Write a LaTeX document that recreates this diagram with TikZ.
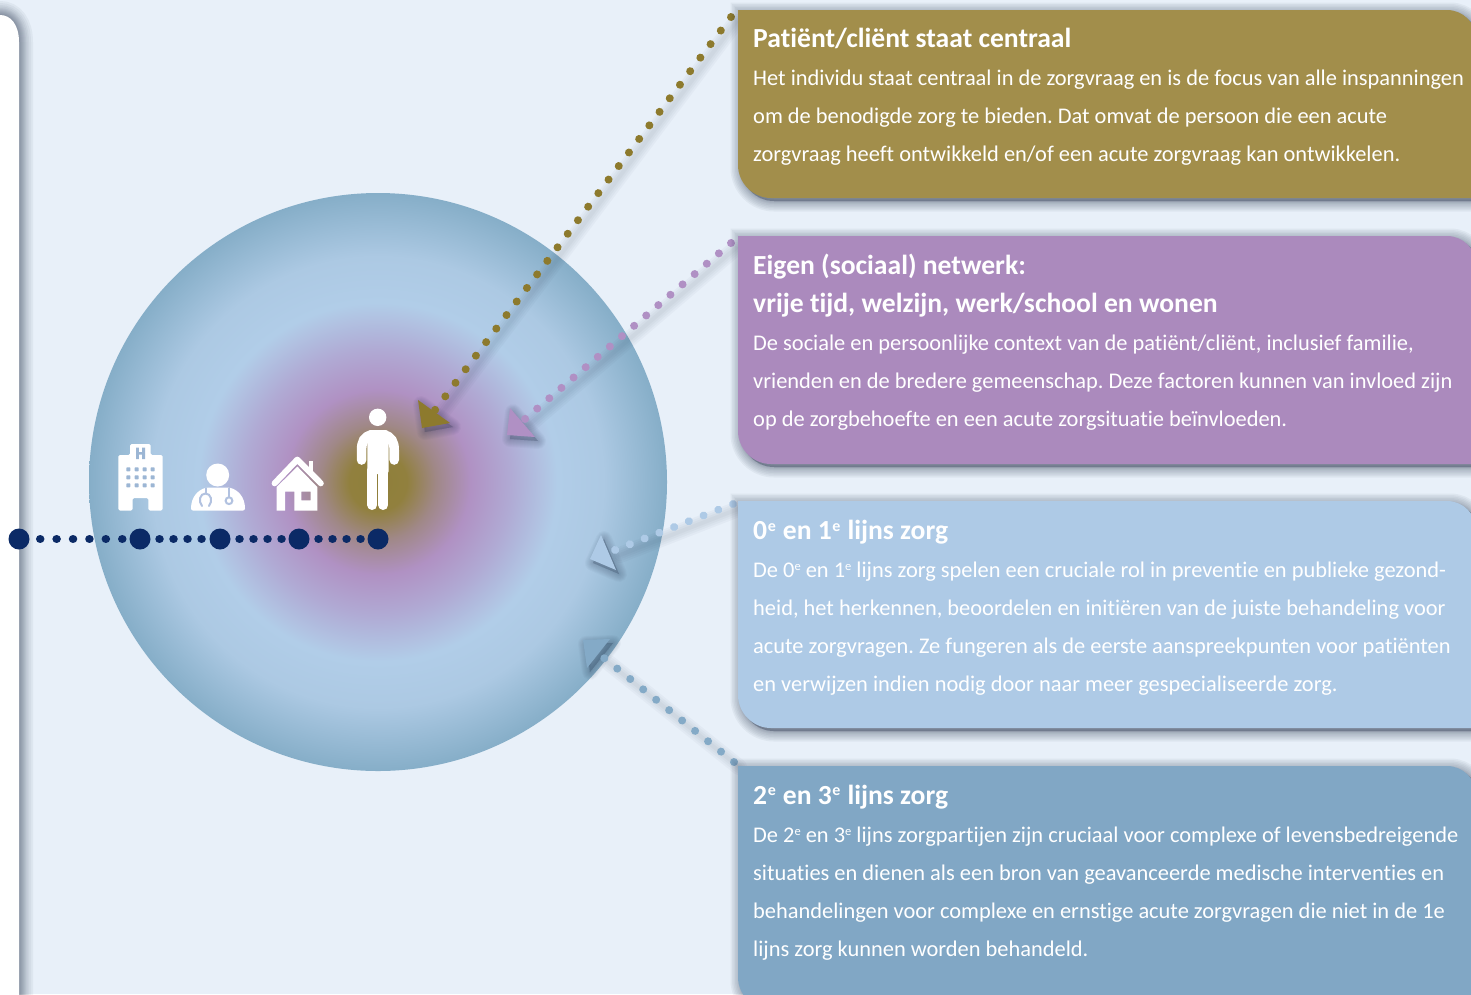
\documentclass[tikz,border=0pt]{standalone}
\usepackage{fontspec}
\setmainfont{Carlito}[Ligatures=NoCommon]
\usetikzlibrary{calc}

\definecolor{achtergrond}{HTML}{E8F0F9}
\definecolor{navy}{HTML}{0B2A66}
\definecolor{olijf}{HTML}{A28E4B}
\definecolor{olijfdonker}{HTML}{8D7A2D}
\definecolor{paars}{HTML}{AB8ABD}
\definecolor{paarslicht}{HTML}{B090C4}
\definecolor{lichtblauw}{HTML}{AECAE6}
\definecolor{staalblauw}{HTML}{81A7C5}
\definecolor{staaldot}{HTML}{84AAC7}
\definecolor{schaduwkleur}{HTML}{1E2C45}
\definecolor{steto}{HTML}{B2C2E0}

\pgfdeclareradialshading{zorgbol}{\pgfpoint{0bp}{0bp}}{
 rgb(0bp)=(.561,.498,.227);
 rgb(2.5bp)=(.569,.502,.243);
 rgb(5bp)=(.627,.533,.529);
 rgb(8bp)=(.690,.569,.765);
 rgb(11.5bp)=(.690,.667,.831);
 rgb(15.5bp)=(.694,.804,.910);
 rgb(19.5bp)=(.675,.788,.890);
 rgb(25bp)=(.525,.682,.784);
 rgb(100bp)=(.525,.682,.784)}

\tikzset{
 schaduw/.style={schaduwkleur,opacity=.05},
 dunschaduw/.style={schaduwkleur,opacity=.03,line cap=round},
 bigdot/.style={circle,fill=navy,inner sep=0pt,minimum size=21pt},
 smalldots/.style={navy,line width=8.5pt,line cap=round},
 pijldots/.style={line width=8pt,line cap=round,dash pattern=on .01pt off #1},
 kop/.style={anchor=base west,inner sep=0pt,text=white,font=\fontsize{27.6}{30}\selectfont\bfseries},
 regel/.style={anchor=base west,inner sep=0pt,text=white,font=\fontsize{22.4}{26}\selectfont},
 icoon/.style={white,draw=none,even odd rule}
}

\newcommand{\kaderpad}[2]{(738,#1) -- (1447,#1) .. controls (1463,#1) and (1476,#1+13) .. (1476,#1+29) -- (1476,#2) -- (771,#2) .. controls (753,#2) and (738,#2-15) .. (738,#2-33) -- cycle}
\newcommand{\ke}{\kern.6pt\raisebox{.62ex}{\fontsize{16}{16}\selectfont e}\kern.8pt}
\newcommand{\re}{\raisebox{.62ex}{\fontsize{12.5}{13}\selectfont e}}

\newcommand{\zorgkader}[3]{
 \foreach \w in {2,4,6,9,12,15,18,21}
  \path[schaduw,fill,draw,line width=\w pt,shift={(3,3)}] \kaderpad{#1}{#2};
 \fill[#3] \kaderpad{#1}{#2};
}

% van, laatste dot, drie hoeken van de punt, kleur, afstand
\newcommand{\zorgpijl}[7]{
 \foreach \w in {4,8,12,16}
  \draw[dunschaduw,line width=\w pt,transform canvas={shift={(5,5)}}] (#1) -- (#2);
 \foreach \w in {2,4,...,16}
  \path[schaduwkleur,opacity=.03,draw,fill,line join=round,line width=\w pt,transform canvas={shift={(3,4)}}] (#3) -- (#4) -- (#5) -- cycle;
 \draw[#6,pijldots=#7] (#1) -- (#2);
 \fill[#6] (#3) -- (#4) -- (#5) -- cycle;
}

\begin{document}
\frenchspacing
\begin{tikzpicture}[x=1pt,y=-1pt]
\useasboundingbox (0,0) rectangle (1471,994);
\clip (0,0) rectangle (1471,994);
\fill[achtergrond] (0,0) rectangle (1471,994);

\foreach \w in {2,4,6,8,10,12,14,17,20,24,28}
 \draw[schaduw,line width=\w pt] (-20,15) -- (0,15) .. controls (11,15) and (19,25) .. (19,42) -- (19,1010);
\fill[white] (-20,15) -- (0,15) .. controls (11,15) and (19,25) .. (19,42) -- (19,1010) -- (-20,1010) -- cycle;

\shade[shading=zorgbol] (378,482) circle (289);

\coordinate (patientvan) at (731,17);
\coordinate (patientpunt) at (435,410);
\coordinate (patienta) at (418,400);
\coordinate (patientb) at (450,423);
\coordinate (patientc) at (422,428);
\coordinate (netwerkvan) at (731,243);
\coordinate (netwerkpunt) at (525,419);
\coordinate (netwerka) at (510,408);
\coordinate (netwerkb) at (535,437);
\coordinate (netwerkc) at (507,435);
\coordinate (eerstevan) at (733,504);
\coordinate (eerstepunt) at (615,550);
\coordinate (eerstea) at (601,535);
\coordinate (eersteb) at (616,570);
\coordinate (eerstec) at (590,559);
\coordinate (tweedevan) at (734,762);
\coordinate (tweedepunt) at (604,658);
\coordinate (tweedea) at (583,640);
\coordinate (tweedeb) at (610,639);
\coordinate (tweedec) at (587,668);

\zorgpijl{patientvan}{patientpunt}{patienta}{patientb}{patientc}{olijfdonker}{16.95pt}
\zorgpijl{netwerkvan}{netwerkpunt}{netwerka}{netwerkb}{netwerkc}{paarslicht}{15.92pt}
\zorgpijl{eerstevan}{eerstepunt}{eerstea}{eersteb}{eerstec}{lichtblauw}{15.8pt}
\zorgpijl{tweedevan}{tweedepunt}{tweedea}{tweedeb}{tweedec}{staaldot}{16.6pt}

\zorgkader{10}{198}{olijf}
\zorgkader{236}{464}{paars}
\zorgkader{501}{728}{lichtblauw}
\zorgkader{766}{1010}{staalblauw}

% tijdlijn
\foreach \n/\x in {0/19,1/140,2/220,3/299,4/378}
 \node[bigdot] (stip\n) at (\x,539) {};
\draw[smalldots,dash pattern=on .01pt off 16.4pt,dash phase=5.9pt] (stip0) -- (stip1);
\foreach \a/\b in {1/2,2/3,3/4}
 \draw[smalldots,dash pattern=on .01pt off 14pt,dash phase=5.2pt] (stip\a) -- (stip\b);

% ziekenhuis
\fill[icoon,rounded corners=1.5pt] (118.3,455) -- (130,455) -- (130,444) -- (150.7,444) -- (150.7,455) -- (162.7,455) -- (162.7,510.5) -- (148.3,510.5) -- (148.3,498) -- (132.7,498) -- (132.7,510.5) -- (118.3,510.5) -- cycle;
\fill[steto!55!staalblauw] (136,447.5) -- (138.8,447.5) -- (138.8,452) -- (142.2,452) -- (142.2,447.5) -- (145,447.5) -- (145,459) -- (142.2,459) -- (142.2,454.5) -- (138.8,454.5) -- (138.8,459) -- (136,459) -- cycle;
\foreach \x in {128.3,136.7,144.7,152.7}
 \foreach \y in {469.3,477.3,485.3}
  \fill[steto!55!staalblauw,rounded corners=.7pt] (\x-2,\y-2) rectangle (\x+2,\y+2);

% dokter
\fill[white] (217.7,475) circle (11.5);
\fill[white,rounded corners=2pt] (191,510.5) .. controls (191,497) and (198,490) .. (207,487.5) -- (229,487.5) .. controls (238,490) and (245,497) .. (245,510.5) -- cycle;
\draw[steto,line width=2pt] (205.5,487.5) -- (205.5,493);
\draw[steto,line width=2pt,line cap=round] (202,506) .. controls (198,501) and (200,493.5) .. (205.5,493.5) .. controls (211,493.5) and (213,501) .. (209,506);
\draw[steto,line width=2pt] (229,487.5) -- (229,497);
\draw[steto,line width=2pt,fill=white] (229,500.7) circle (3.4);

% huis
\draw[white,line width=6pt,line cap=round,line join=round] (274.6,483.3) -- (297.3,459.6) -- (320.8,483.3);
\fill[white] (309.3,461) rectangle (313.3,473);
\fill[icoon] (276.7,487) -- (297.3,466.5) -- (317.3,487) -- (317.3,510.5) -- (294.3,510.5) -- (294.3,491.7) -- (285,491.7) -- (285,510.5) -- (276.7,510.5) -- cycle
 (301.3,491.7) rectangle (310.7,500.3);

% persoon
\fill[white] (377.7,417.3) circle (8.7);
\fill[white,rounded corners=3pt] (367.3,430) rectangle (388.7,474);
\draw[white,line width=9.6pt,line cap=round] (372,435) .. controls (364,436) and (361.6,442) .. (361.6,450) -- (361.6,460);
\draw[white,line width=9.6pt,line cap=round] (383.4,435) .. controls (391.4,436) and (394.2,442) .. (394.2,450) -- (394.2,460);
\draw[white,line width=10pt,line cap=round] (372.3,470) -- (372.3,505);
\draw[white,line width=10pt,line cap=round] (383.3,470) -- (383.3,505);

% teksten
\node[kop] (kop1) at (753,47) {Patiënt/cliënt staat centraal};
\foreach \n/\y/\t in {
 1/85/{Het individu staat centraal in de zorgvraag en is de focus van alle inspanningen},
 2/123/{om de benodigde zorg te bieden. Dat omvat de persoon die een acute},
 3/161/{zorgvraag heeft ontwikkeld en/of een acute zorgvraag kan ontwikkelen.}}
 \node[regel] (patient\n) at (753,\y) {\t};

\node[kop] (kop2) at (753,274) {Eigen (sociaal) netwerk:};
\node[kop] (kop3) at (753,312) {vrije tijd, welzijn, werk/school en wonen};
\foreach \n/\y/\t in {
 1/350/{De sociale en persoonlijke context van de patiënt/cliënt, inclusief familie,},
 2/388/{vrienden en de bredere gemeenschap. Deze factoren kunnen van invloed zijn},
 3/426/{op de zorgbehoefte en een acute zorgsituatie beïnvloeden.}}
 \node[regel] (netwerk\n) at (753,\y) {\t};

\node[kop] (kop4) at (753,539.5) {0\ke{} en 1\ke{} lijns zorg};
\foreach \n/\y/\t in {
 1/577/{De 0\re{} en 1\re{} lijns zorg spelen een cruciale rol in preventie en publieke gezond-},
 2/615/{heid, het herkennen, beoordelen en initiëren van de juiste behandeling voor},
 3/653/{acute zorgvragen. Ze fungeren als de eerste aanspreekpunten voor patiënten},
 4/691/{en verwijzen indien nodig door naar meer gespecialiseerde zorg.}}
 \node[regel] (eerste\n) at (753,\y) {\t};

\node[kop] (kop5) at (753,804) {2\ke{} en 3\ke{} lijns zorg};
\foreach \n/\y/\t in {
 1/842/{De 2\re{} en 3\re{} lijns zorgpartijen zijn cruciaal voor complexe of levensbedreigende},
 2/880/{situaties en dienen als een bron van geavanceerde medische interventies en},
 3/918/{behandelingen voor complexe en ernstige acute zorgvragen die niet in de 1e},
 4/956/{lijns zorg kunnen worden behandeld.}}
 \node[regel] (tweede\n) at (753,\y) {\t};
\end{tikzpicture}
\end{document}
